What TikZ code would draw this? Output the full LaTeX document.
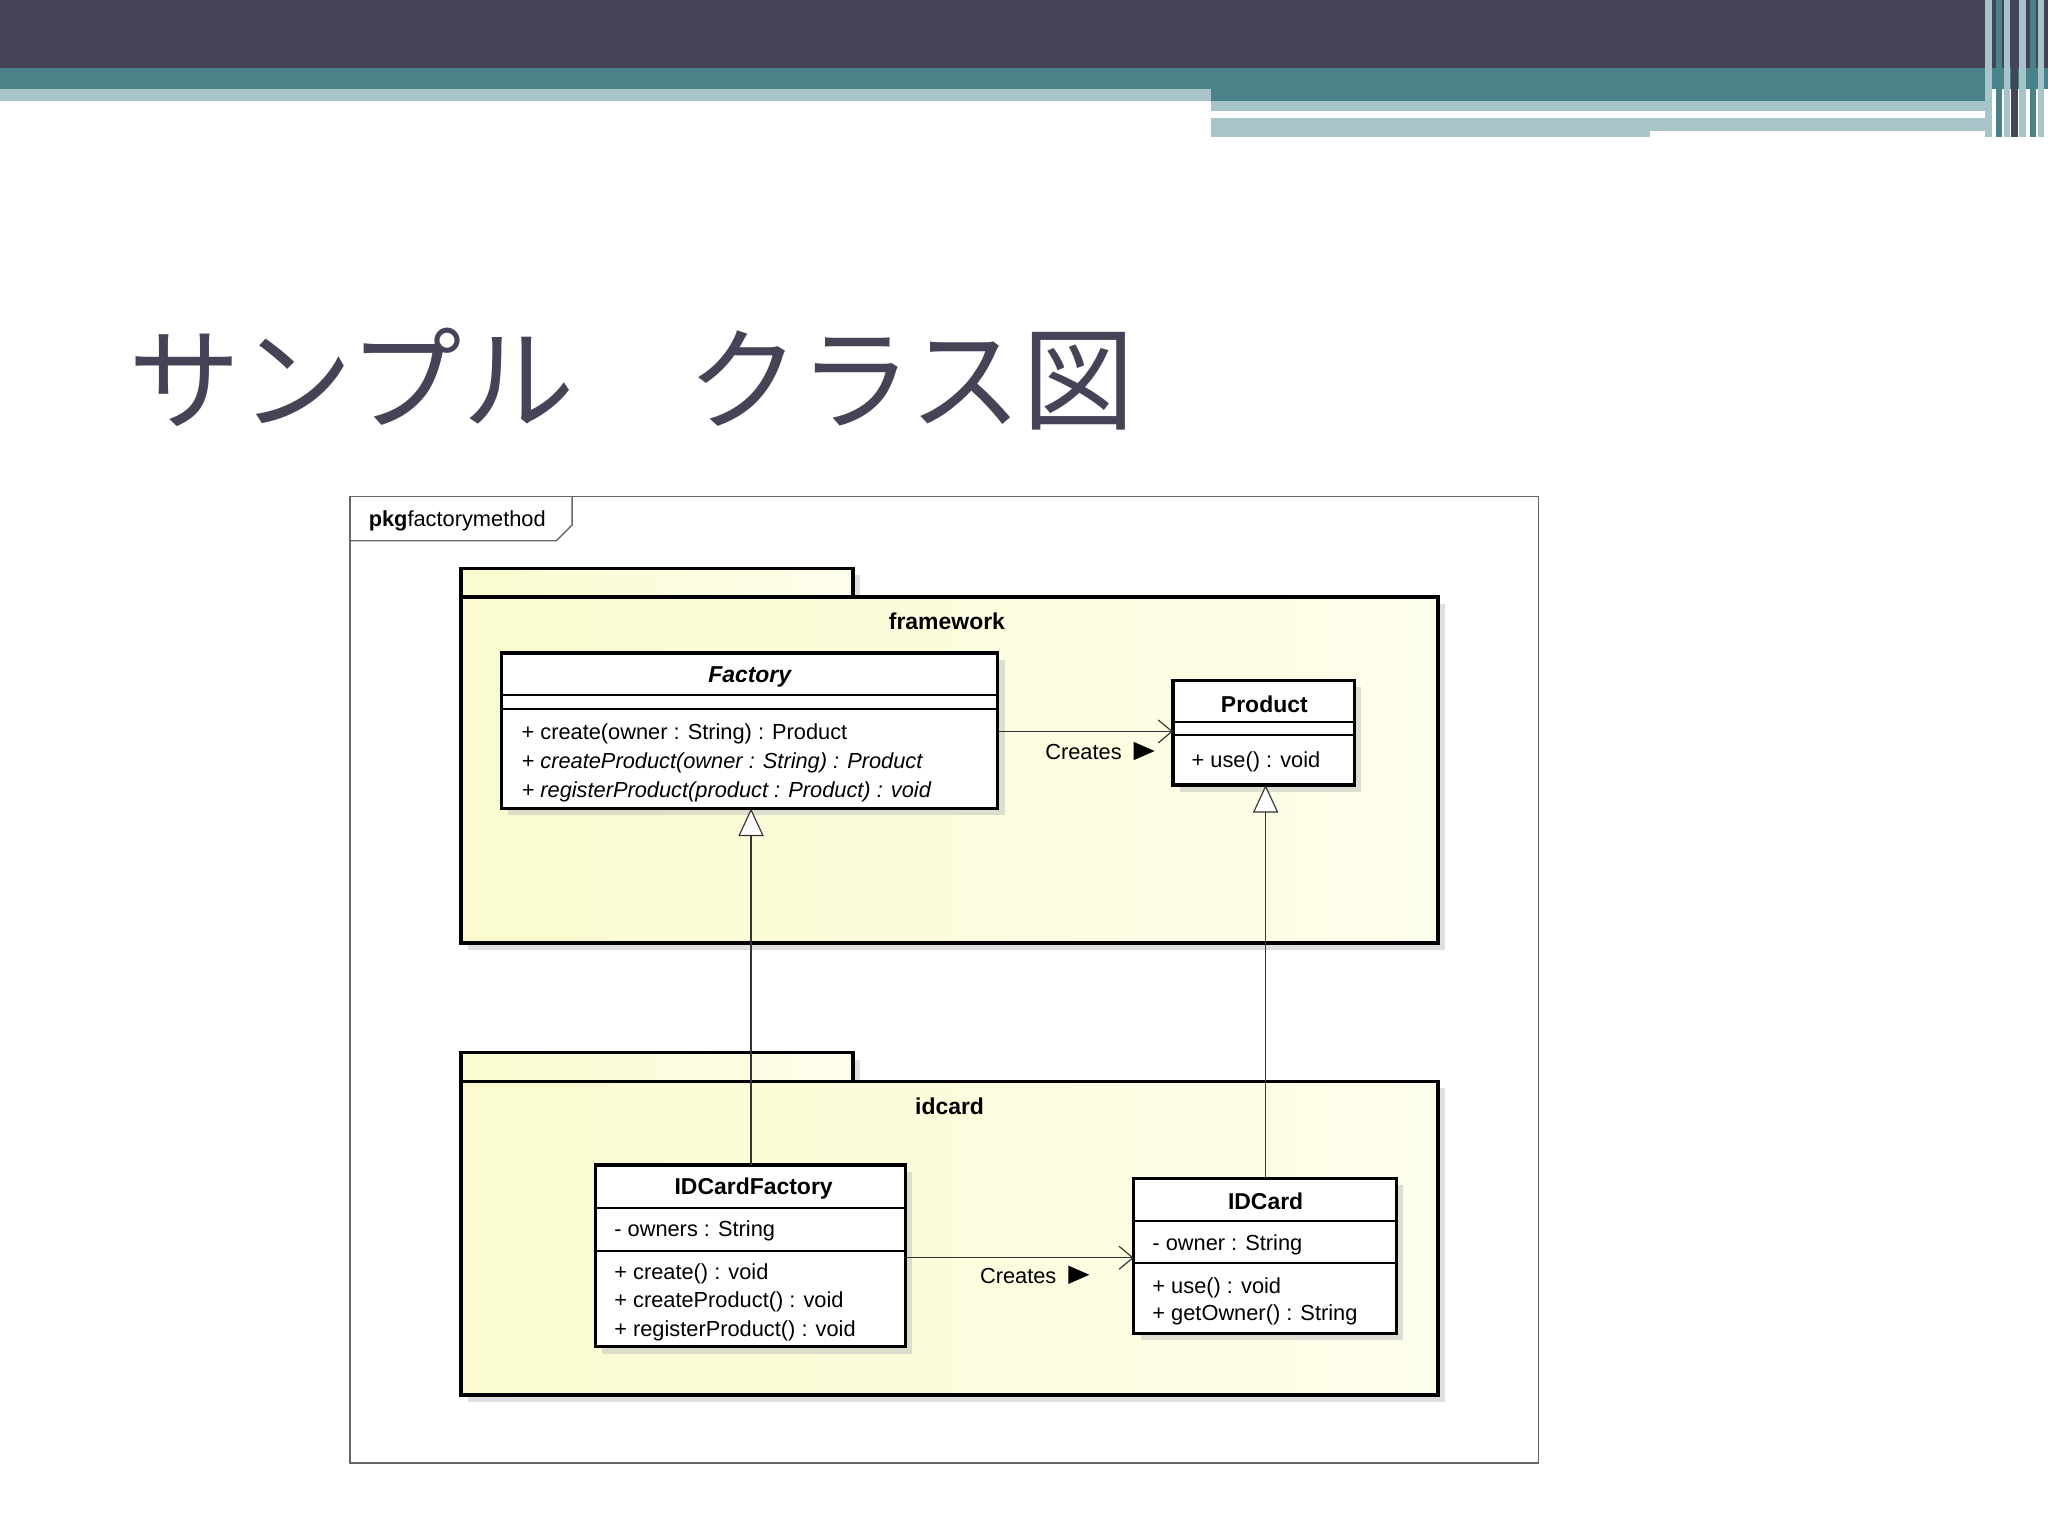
\documentclass[tikz,border=0pt]{standalone}
\usepackage{fontspec}
\setmainfont{Liberation Sans}
\newfontfamily\cjk{Noto Sans CJK JP}
\usetikzlibrary{shadows,arrows.meta}
\definecolor{dark}{HTML}{454457}
\definecolor{teal}{HTML}{4A8289}
\definecolor{lblue}{HTML}{A7C5C9}
\definecolor{pkgy}{HTML}{FBFBCF}
\begin{document}
\begin{tikzpicture}[x=0.02cm,y=-0.02cm,
  pkg/.style={draw=black,line width=1.4pt,left color=pkgy,right color=pkgy!40!white,drop shadow={shadow xshift=3pt,shadow yshift=-3pt,fill=black!25}},
  cls/.style={draw=black,line width=1.4pt,fill=white,drop shadow={shadow xshift=3pt,shadow yshift=-3pt,fill=black!25}},
  txt/.style={font=\fontsize{9.5}{11}\selectfont,anchor=west,inner sep=0pt},
  ttl/.style={font=\bfseries\fontsize{10}{12}\selectfont,inner sep=0pt},
  dep/.style={draw=black!80,line width=0.5pt,-{Straight Barb[length=6pt,width=10pt]}},
  gen/.style={draw=black!80,line width=0.5pt,-{Triangle[open,length=12pt,width=11pt,fill=white]}}]
\useasboundingbox (0,0) rectangle (1568,1176);
% banner
\fill[dark] (0,0) rectangle (1568,52);
\fill[teal] (0,52) rectangle (1568,68);
\fill[lblue] (0,68) rectangle (927,77);
\fill[teal] (927,68) rectangle (1520,77);
\fill[lblue] (927,77) rectangle (1520,85);
\fill[white] (927,85) rectangle (1452,90);
\fill[lblue] (927,90) rectangle (1263,105);
\fill[lblue] (1263,90) rectangle (1520,100);
\foreach \x/\c in {1520/lblue,1528/teal,1534/lblue,1540/dark,1546/lblue,1554/teal,1560/lblue}
  \fill[\c] (\x,0) rectangle ++(5,105);
% title
\node[anchor=west,inner sep=0pt,text=dark,font=\cjk\fontsize{49}{53}\selectfont] (title) at (98,290) {サンプル　クラス図};
% frame
\draw[black!60,line width=0.6pt] (268,380) rectangle (1178,1120);
\draw[black!60,line width=0.6pt] (268,414) -- (426,414) -- (438,402) -- (438,380);
\node[txt,font=\fontsize{9.5}{11}\selectfont] (pkgl) at (282,399) {\textbf{pkg}factorymethod};
% packages
\draw[pkg] (353,435) rectangle (653,457);
\draw[pkg] (353,457) rectangle (1101,722);
\node[ttl] (fw) at (725,476) {framework};
\draw[pkg] (353,806) rectangle (653,828);
\draw[pkg] (353,828) rectangle (1101,1068);
\node[ttl] (ic) at (727,847) {idcard};
% Factory
\draw[cls] (384,500) rectangle (764,619);
\draw[line width=0.8pt] (384,532) -- (764,532) (384,543) -- (764,543);
\node[ttl,font=\bfseries\itshape\fontsize{10}{12}\selectfont] (fac) at (574,518) {Factory};
\node[txt] (f1) at (399,562) {+ create(owner : String) : Product};
\node[txt] (f2) at (399,584) {\itshape + createProduct(owner : String) : Product};
\node[txt] (f3) at (399,606) {\itshape + registerProduct(product : Product) : void};
% Product
\draw[cls] (898,521) rectangle (1037,601);
\draw[line width=0.8pt] (898,553) -- (1037,553) (898,563) -- (1037,563);
\node[ttl] (prod) at (968,539) {Product};
\node[txt] (p1) at (912,583) {+ use() : void};
% IDCardFactory
\draw[cls] (456,892) rectangle (693,1031);
\draw[line width=0.8pt] (456,925) -- (693,925) (456,958) -- (693,958);
\node[ttl] (icf) at (577,910) {IDCardFactory};
\node[txt] (i1) at (470,942) {- owners : String};
\node[txt] (i2) at (470,975) {+ create() : void};
\node[txt] (i3) at (470,997) {+ createProduct() : void};
\node[txt] (i4) at (470,1019) {+ registerProduct() : void};
% IDCard
\draw[cls] (868,902) rectangle (1069,1021);
\draw[line width=0.8pt] (868,935) -- (1069,935) (868,967) -- (1069,967);
\node[ttl] (idc) at (969,920) {IDCard};
\node[txt] (c1) at (882,953) {- owner : String};
\node[txt] (c2) at (882,986) {+ use() : void};
\node[txt] (c3) at (882,1007) {+ getOwner() : String};
% connectors
\coordinate (fr) at (764,560); \coordinate (pl) at (898,560);
\draw[dep] (fr) -- (pl);
\node[txt] (cr1) at (800,576) {Creates};
\fill[black] (868,568) -- (884,575) -- (868,582) -- cycle;
\coordinate (ifr) at (693,963); \coordinate (icl) at (868,963);
\draw[dep] (ifr) -- (icl);
\node[txt] (cr2) at (750,977) {Creates};
\fill[black] (818,969) -- (834,976) -- (818,983) -- cycle;
\coordinate (ift) at (575,892); \coordinate (fb) at (575,619);
\draw[gen] (ift) -- (fb);
\coordinate (ict) at (969,902); \coordinate (pb) at (969,601);
\draw[gen] (ict) -- (pb);
\end{tikzpicture}
\end{document}
